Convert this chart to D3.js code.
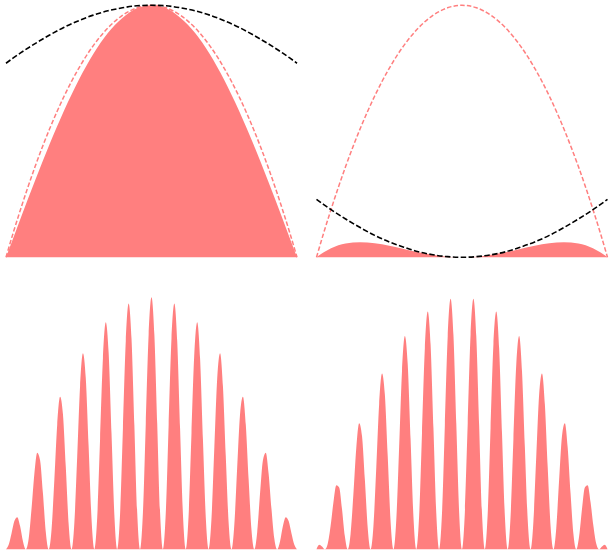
<!DOCTYPE html>
<html>
<head>
<meta charset="utf-8">
<script src="https://cdn.jsdelivr.net/npm/d3@7"></script>
<style>
  html, body { margin: 0; padding: 0; background: #fff; }
  svg { display: block; }
</style>
</head>
<body>
<svg id="chart" width="609" height="552"></svg>
<script>
// Slow-phase panels (top row): sample positions across the aperture
const xTop = [-1, -0.95, -0.9, -0.8, -0.7, -0.6, -0.5, -0.4, -0.3, -0.2, -0.1, 0,
              0.1, 0.2, 0.3, 0.4, 0.5, 0.6, 0.7, 0.8, 0.9, 0.95, 1];

// Aperture envelope (pink dashed)
const envelopeTop = [0, 0.098, 0.19, 0.36, 0.51, 0.64, 0.75, 0.84, 0.91, 0.96, 0.99, 1,
                     0.99, 0.96, 0.91, 0.84, 0.75, 0.64, 0.51, 0.36, 0.19, 0.098, 0];

// Phase weights (black dashed)
const cosWeight = [0.770, 0.791, 0.811, 0.848, 0.882, 0.913, 0.939, 0.961, 0.978, 0.990, 0.998, 1,
                   0.998, 0.990, 0.978, 0.961, 0.939, 0.913, 0.882, 0.848, 0.811, 0.791, 0.770];
const sinWeight = [0.230, 0.209, 0.189, 0.152, 0.118, 0.087, 0.061, 0.040, 0.022, 0.010, 0.0025, 0,
                   0.0025, 0.010, 0.022, 0.040, 0.061, 0.087, 0.118, 0.152, 0.189, 0.209, 0.230];

// Weighted intensities (filled)
const fillCos = [0, 0.077, 0.154, 0.305, 0.450, 0.584, 0.704, 0.807, 0.890, 0.950, 0.988, 1,
                 0.988, 0.950, 0.890, 0.807, 0.704, 0.584, 0.450, 0.305, 0.154, 0.077, 0];
const fillSin = [0, 0.020, 0.036, 0.055, 0.060, 0.056, 0.046, 0.033, 0.020, 0.010, 0.002, 0,
                 0.002, 0.010, 0.020, 0.033, 0.046, 0.056, 0.060, 0.055, 0.036, 0.020, 0];

// Fringe panels (bottom row): eight samples per fringe period
const xFringe = [-1,
  -0.9817, -0.9621, -0.9425, -0.9228, -0.9032, -0.8836, -0.8639, -0.8443, -0.8247, -0.8050,
  -0.7854, -0.7658, -0.7461, -0.7265, -0.7069, -0.6872, -0.6676, -0.6480, -0.6283, -0.6087,
  -0.5890, -0.5694, -0.5498, -0.5301, -0.5105, -0.4909, -0.4712, -0.4516, -0.4320, -0.4123,
  -0.3927, -0.3731, -0.3534, -0.3338, -0.3142, -0.2945, -0.2749, -0.2553, -0.2356, -0.2160,
  -0.1963, -0.1767, -0.1571, -0.1374, -0.1178, -0.0982, -0.0785, -0.0589, -0.0393, -0.0196,
  0,
  0.0196, 0.0393, 0.0589, 0.0785, 0.0982, 0.1178, 0.1374, 0.1571, 0.1767, 0.1963,
  0.2160, 0.2356, 0.2553, 0.2749, 0.2945, 0.3142, 0.3338, 0.3534, 0.3731, 0.3927,
  0.4123, 0.4320, 0.4516, 0.4712, 0.4909, 0.5105, 0.5301, 0.5498, 0.5694, 0.5890,
  0.6087, 0.6283, 0.6480, 0.6676, 0.6872, 0.7069, 0.7265, 0.7461, 0.7658, 0.7854,
  0.8050, 0.8247, 0.8443, 0.8639, 0.8836, 0.9032, 0.9228, 0.9425, 0.9621, 0.9817,
  1];

const fringeCos = [0,
  0.018, 0.063, 0.112, 0.127, 0.092, 0.032, 0, 0.042, 0.160, 0.300,
  0.383, 0.353, 0.222, 0.069, 0, 0.077, 0.277, 0.495, 0.605, 0.537,
  0.327, 0.099, 0, 0.105, 0.370, 0.648, 0.778, 0.679, 0.407, 0.122,
  0, 0.126, 0.438, 0.758, 0.901, 0.780, 0.462, 0.137, 0, 0.140,
  0.481, 0.827, 0.975, 0.837, 0.493, 0.145, 0, 0.146, 0.499, 0.853,
  1.000,
  0.853, 0.499, 0.146, 0, 0.145, 0.493, 0.837, 0.975, 0.827, 0.481,
  0.140, 0, 0.137, 0.462, 0.780, 0.901, 0.758, 0.438, 0.126, 0,
  0.122, 0.407, 0.679, 0.778, 0.648, 0.370, 0.105, 0, 0.099, 0.327,
  0.537, 0.605, 0.495, 0.277, 0.077, 0, 0.069, 0.222, 0.353, 0.383,
  0.300, 0.160, 0.042, 0, 0.032, 0.092, 0.127, 0.112, 0.063, 0.018,
  0];

const fringeSin = [0,
  0.018, 0.011, 0, 0.022, 0.092, 0.187, 0.254, 0.245, 0.160, 0.052,
  0, 0.061, 0.222, 0.403, 0.500, 0.450, 0.277, 0.085, 0, 0.092,
  0.327, 0.577, 0.698, 0.614, 0.370, 0.111, 0, 0.117, 0.407, 0.708,
  0.846, 0.735, 0.438, 0.130, 0, 0.134, 0.462, 0.798, 0.944, 0.814,
  0.481, 0.142, 0, 0.144, 0.493, 0.845, 0.994, 0.851, 0.499, 0.146,
  0,
  0.146, 0.499, 0.851, 0.994, 0.845, 0.493, 0.144, 0, 0.142, 0.481,
  0.814, 0.944, 0.798, 0.462, 0.134, 0, 0.130, 0.438, 0.735, 0.846,
  0.708, 0.407, 0.117, 0, 0.111, 0.370, 0.614, 0.698, 0.577, 0.327,
  0.092, 0, 0.085, 0.277, 0.450, 0.500, 0.403, 0.222, 0.061, 0,
  0.052, 0.160, 0.245, 0.254, 0.187, 0.092, 0.022, 0, 0.011, 0.018,
  0];

// Panel layout
const FILL = "#ff7f7f";
const cols = [[6, 297], [316.5, 607.5]];
const rows = [[257.3, 5.3], [549.3, 297.3]];

const zip = (xs, ys) => xs.map((x, i) => [x, ys[i]]);

const panels = [
  { col: 0, row: 0, x: xTop, fill: fillCos, envelope: envelopeTop, weight: cosWeight },
  { col: 1, row: 0, x: xTop, fill: fillSin, envelope: envelopeTop, weight: sinWeight },
  { col: 0, row: 1, x: xFringe, fill: fringeCos },
  { col: 1, row: 1, x: xFringe, fill: fringeSin }
];

const svg = d3.select("#chart");

panels.forEach(p => {
  const xs = d3.scaleLinear().domain([-1, 1]).range(cols[p.col]);
  const ys = d3.scaleLinear().domain([0, 1]).range(rows[p.row]);
  const g = svg.append("g");

  const area = d3.area()
    .x(d => xs(d[0]))
    .y0(ys(0))
    .y1(d => ys(d[1]))
    .curve(d3.curveMonotoneX);

  const line = d3.line()
    .x(d => xs(d[0]))
    .y(d => ys(d[1]))
    .curve(d3.curveMonotoneX);

  g.append("path")
    .datum(zip(p.x, p.fill))
    .attr("d", area)
    .attr("fill", FILL)
    .attr("stroke", "none");

  if (p.envelope) {
    g.append("path")
      .datum(zip(p.x, p.envelope))
      .attr("d", line)
      .attr("fill", "none")
      .attr("stroke", FILL)
      .attr("stroke-width", 1.5)
      .attr("stroke-dasharray", "4.5,2.2");
  }
  if (p.weight) {
    g.append("path")
      .datum(zip(p.x, p.weight))
      .attr("d", line)
      .attr("fill", "none")
      .attr("stroke", "#000")
      .attr("stroke-width", 1.6)
      .attr("stroke-dasharray", "5.5,2.4");
  }
});
</script>
</body>
</html>
